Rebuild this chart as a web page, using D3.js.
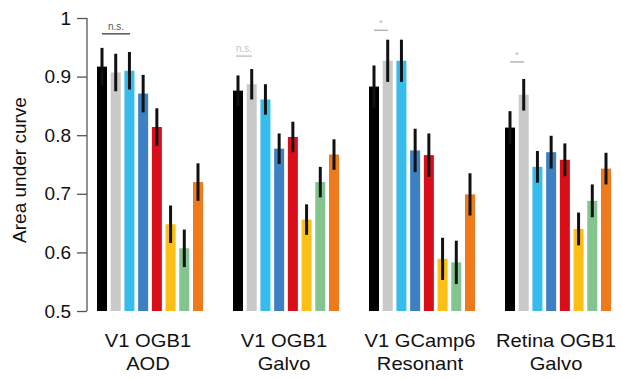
<!DOCTYPE html>
<html>
<head>
<meta charset="utf-8">
<script src="https://cdn.jsdelivr.net/npm/d3@7"></script>
<style>
  body { margin: 0; background: #fff; }
  text { font-family: "Liberation Sans", Arial, sans-serif; }
</style>
</head>
<body>
<div id="chart"></div>
<script>
// groups (x categories), two-line labels
var groups = ["g1", "g2", "g3", "g4"];
var groupLine1 = ["V1 OGB1", "V1 OGB1", "V1 GCamp6", "Retina OGB1"];
var groupLine2 = ["AOD", "Galvo", "Resonant", "Galvo"];
var series = ["s1", "s2", "s3", "s4", "s5", "s6", "s7", "s8"];
var seriesColors = ["#000000", "#c9c9c9", "#36bdee", "#3d80c4", "#d80e1b", "#fcbf16", "#83c48f", "#ef7a1b"];

// mean values per group (rows) and series (columns)
var values = [
  [0.917, 0.907, 0.910, 0.871, 0.814, 0.648, 0.607, 0.720],
  [0.876, 0.887, 0.861, 0.777, 0.797, 0.656, 0.720, 0.767],
  [0.883, 0.927, 0.927, 0.774, 0.766, 0.589, 0.583, 0.699],
  [0.813, 0.869, 0.746, 0.771, 0.758, 0.640, 0.688, 0.743]
];
// error half-widths
var errors = [
  [0.032, 0.032, 0.032, 0.032, 0.032, 0.032, 0.032, 0.032],
  [0.026, 0.026, 0.026, 0.026, 0.026, 0.026, 0.026, 0.026],
  [0.036, 0.036, 0.036, 0.037, 0.037, 0.036, 0.037, 0.036],
  [0.028, 0.027, 0.027, 0.028, 0.028, 0.028, 0.028, 0.027]
];
var yTicks = [0.5, 0.6, 0.7, 0.8, 0.9, 1];
// significance marks: label, colour, value level
var sigText = ["n.s.", "n.s.", "*", "*"];
var sigColor = ["#555", "#c4c4c4", "#b5b5b5", "#b5b5b5"];
var sigLevel = [0.973, 0.935, 0.979, 0.925];

var W = 622, H = 379;
var svg = d3.select("#chart").append("svg").attr("width", W).attr("height", H);

var y = d3.scaleLinear().domain([0.5, 1]).range([311, 18]);
var x0 = d3.scaleBand().domain(groups).range([97, 641]);
var x1 = d3.scaleBand().domain(series).range([0, 106]).paddingInner(0.27);

// y axis
var yAxis = svg.append("g").attr("transform", "translate(87,0)")
  .call(d3.axisLeft(y).tickValues(yTicks).tickSize(10).tickPadding(6)
    .tickFormat(function(d) { return d === 1 ? "1" : d3.format(".1f")(d); }));
yAxis.select(".domain").attr("stroke", "#555").attr("stroke-width", 1.3).attr("d", "M0," + y(0.5) + "V" + y(1));
yAxis.selectAll(".tick line").attr("stroke", "#555").attr("stroke-width", 1.3);
yAxis.selectAll(".tick text").style("font-size", "19px").attr("fill", "#111");

svg.append("text").attr("transform", "translate(26,170) rotate(-90)")
  .attr("text-anchor", "middle").style("font-size", "19px").attr("fill", "#111")
  .text("Area under curve");

// bars
var gG = svg.selectAll("g.grp").data(groups).enter().append("g").attr("class", "grp")
  .attr("transform", function(d) { return "translate(" + x0(d) + ",0)"; });

gG.each(function(g, gi) {
  var sel = d3.select(this);
  var rows = series.map(function(s, si) { return { s: s, v: values[gi][si], e: errors[gi][si], c: seriesColors[si] }; });
  sel.selectAll("rect").data(rows).enter().append("rect")
    .attr("x", function(d) { return x1(d.s); })
    .attr("width", x1.bandwidth())
    .attr("y", function(d) { return y(d.v); })
    .attr("height", function(d) { return y(0.5) - y(d.v); })
    .attr("fill", function(d) { return d.c; });
  sel.selectAll("line.err").data(rows).enter().append("line").attr("class", "err")
    .attr("x1", function(d) { return x1(d.s) + x1.bandwidth() / 2; })
    .attr("x2", function(d) { return x1(d.s) + x1.bandwidth() / 2; })
    .attr("y1", function(d) { return y(d.v + d.e); })
    .attr("y2", function(d) { return y(d.v - d.e); })
    .attr("stroke", "#111").attr("stroke-width", 3);

  sel.append("text").attr("transform", "translate(51,347) scale(1.12,1)").attr("text-anchor", "middle")
    .style("font-size", "18px").attr("fill", "#111").text(groupLine1[gi]);
  sel.append("text").attr("transform", "translate(51,370) scale(1.12,1)").attr("text-anchor", "middle")
    .style("font-size", "18px").attr("fill", "#111").text(groupLine2[gi]);
});

// significance marks
groups.forEach(function(g, k) {
  var gx = x0(g);
  var xa, xb;
  if (k === 0) { xa = gx + 5; xb = gx + 33; }
  else if (k === 1) { xa = gx + 3; xb = gx + 19; }
  else { xa = gx + 5; xb = gx + 19; }
  svg.append("line").attr("x1", xa).attr("x2", xb)
    .attr("y1", y(sigLevel[k])).attr("y2", y(sigLevel[k]))
    .attr("stroke", sigColor[k]).attr("stroke-width", 1.5);
  svg.append("text").attr("x", (xa + xb) / 2).attr("y", y(sigLevel[k]) - 4)
    .attr("text-anchor", "middle").style("font-size", sigText[k] === "*" ? "9px" : "10px")
    .attr("fill", sigColor[k]).text(sigText[k]);
});
</script>
</body>
</html>
